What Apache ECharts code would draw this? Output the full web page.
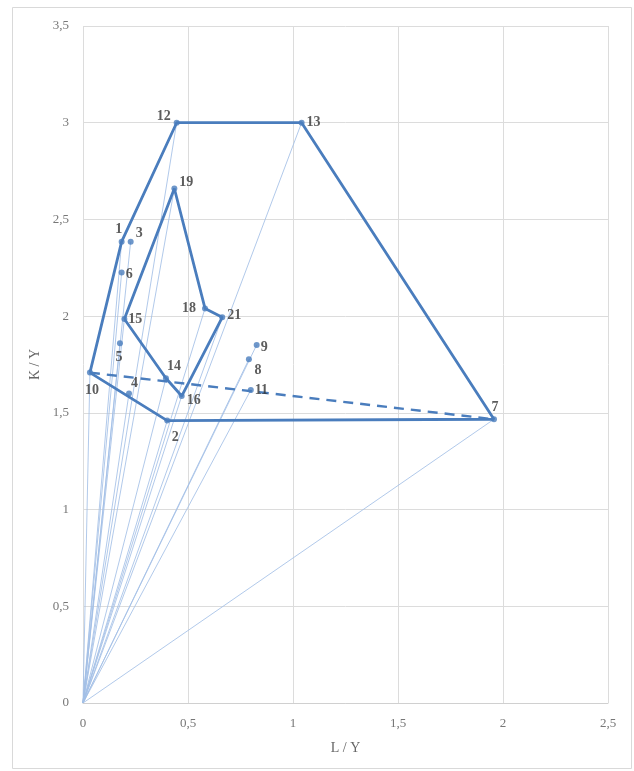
<!DOCTYPE html>
<html>
<head>
<meta charset="utf-8">
<script src="https://cdn.jsdelivr.net/npm/echarts@6/dist/echarts.min.js"></script>
<style>html,body{margin:0;padding:0;background:#fff;}#c{width:634px;height:771px;}</style>
</head>
<body>
<div id="c"></div>
<script>
// Point data
const pointIds = ['1','2','3','4','5','6','7','8','9','10','11','12','13','14','15','16','18','19','21'];
const xValues  = [0.184,0.401,0.227,0.219,0.176,0.184,1.957,0.790,0.827,0.033,0.799,0.446,1.041,0.395,0.197,0.470,0.581,0.435,0.663];
const yValues  = [2.385,1.460,2.385,1.600,1.860,2.225,1.467,1.777,1.851,1.708,1.618,3.000,3.000,1.679,1.985,1.587,2.040,2.660,1.994];
const outerPath = ['10','1','12','13','7','2','10'];
const innerPath = ['15','19','18','21','16','14','15'];
const dashedPath = ['10','7'];
const xTicks = [0,0.5,1,1.5,2,2.5];
const yTicks = [0,0.5,1,1.5,2,2.5,3,3.5];

// label placement (style only)
const labelStyle = {
  '1':['top',[-3,1]], '3':['right',[-1,-8]], '6':['right',[-2,2]], '12':['left',[0,-6]],
  '13':['right',[-1,0]], '19':['right',[-1,-6]], '18':['left',[-3,0]], '21':['right',[-1,-2]],
  '15':['right',[-2,0]], '5':['bottom',[-1,1]], '10':['bottom',[2,5]], '4':['right',[-4,-10]],
  '14':['top',[8,1]], '16':['right',[-1,4]], '2':['bottom',[8,4]], '9':['right',[-2,2]],
  '8':['bottom',[9,-2]], '11':['right',[-2,0]], '7':['top',[1,1]]
};

const pt = id => { const i = pointIds.indexOf(id); return [xValues[i], yValues[i]]; };
const blue = '#4a7dbd';
const series = [];
pointIds.forEach(id => {
  series.push({type:'line', data:[[0,0], pt(id)], showSymbol:false, silent:true,
    lineStyle:{color:'#a3c0e6', width:1, opacity:0.85}, z:1});
});
series.push({type:'line', data:outerPath.map(pt), showSymbol:false, lineStyle:{color:blue, width:2.8}, z:3});
series.push({type:'line', data:innerPath.map(pt), showSymbol:false, lineStyle:{color:blue, width:2.8}, z:3});
series.push({type:'line', data:dashedPath.map(pt), showSymbol:false, lineStyle:{color:blue, width:2.4, type:[10,7]}, z:3});
series.push({type:'scatter', symbolSize:6, itemStyle:{color:blue}, z:4,
  data: pointIds.map((id,i) => ({value:[xValues[i], yValues[i]],
    label:{show:true, formatter:id, position:labelStyle[id][0], offset:labelStyle[id][1], distance:3,
      fontFamily:'Liberation Serif', fontSize:14, fontWeight:'bold', color:'#333'}}))
});

const fmt = v => String(v).replace('.', ',');
const chart = echarts.init(document.getElementById('c'), null, {renderer:'canvas'});
chart.setOption({
  animation:false,
  backgroundColor:'#fff',
  graphic:[{type:'rect', shape:{x:12.5,y:7.5,width:619,height:761}, style:{fill:'none', stroke:'#d9d9d9', lineWidth:1}}],
  grid:{left:83, right:26, top:26, bottom:68},
  xAxis:{type:'value', min:0, max:2.5, interval:0.5,
    name:'L / Y', nameLocation:'middle', nameGap:38,
    nameTextStyle:{fontFamily:'Liberation Serif', fontSize:14, color:'#666'},
    axisLine:{show:true, lineStyle:{color:'#d0d0d0'}}, axisTick:{show:false},
    axisLabel:{formatter:fmt, fontFamily:'Liberation Serif', fontSize:13, color:'#777', margin:14},
    splitLine:{show:true, lineStyle:{color:'#dcdcdc'}}},
  yAxis:{type:'value', min:0, max:3.5, interval:0.5,
    name:'K / Y', nameLocation:'middle', nameGap:36,
    nameTextStyle:{fontFamily:'Liberation Serif', fontSize:14, color:'#666'},
    axisLine:{show:false}, axisTick:{show:false},
    axisLabel:{formatter:fmt, fontFamily:'Liberation Serif', fontSize:13, color:'#777', margin:14},
    splitLine:{show:true, lineStyle:{color:'#dcdcdc'}}},
  series: series
});
</script>
</body>
</html>
